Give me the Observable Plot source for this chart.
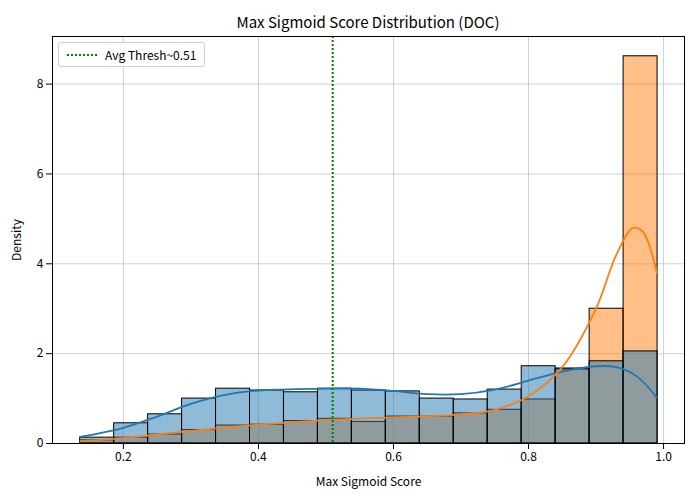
<!DOCTYPE html>
<html><head><meta charset="utf-8">
<script src="https://cdn.jsdelivr.net/npm/d3@7"></script>
<script src="https://cdn.jsdelivr.net/npm/@observablehq/plot@0.6"></script>
<style>
body{margin:0;font-family:"Noto Sans CJK KR","DejaVu Sans",sans-serif;background:#fff}
#wrap{position:relative;width:700px;height:500px}
#title{position:absolute;top:11px;left:52px;width:632px;text-align:center;font-size:15px}
#legend{position:absolute;top:42px;left:58px;border:1px solid #ccc;border-radius:3px;background:#fff;padding:3px 8px;font-size:12px;display:flex;align-items:center;gap:8px}
</style></head><body>
<div id="wrap"><div id="title">Max Sigmoid Score Distribution (DOC)</div>
<div id="legend"><svg width="30" height="6"><line x1="0" y1="3" x2="30" y2="3" stroke="green" stroke-width="2" stroke-dasharray="2,2"/></svg>Avg Thresh~0.51</div>
<div id="chart"></div></div>
<script>
const binStart = 0.136, binWidth = 0.0503
const blueHeights = [0.13,0.45,0.65,1.0,1.22,1.18,1.14,1.22,1.18,1.16,1.0,0.98,1.2,1.72,1.65,1.83,2.05]
const orangeHeights = [0.07,0.13,0.2,0.3,0.4,0.42,0.5,0.55,0.48,0.6,0.6,0.67,0.75,0.98,1.67,3.0,8.62]
const blueKdeX = [0.136,0.2,0.25,0.3,0.35,0.4,0.5,0.55,0.6,0.65,0.7,0.75,0.8,0.85,0.9,0.93,0.96,0.99]
const blueKdeY = [0.15,0.35,0.6,0.88,1.08,1.18,1.22,1.22,1.17,1.1,1.1,1.2,1.4,1.6,1.72,1.7,1.5,1.02]
const orangeKdeX = [0.136,0.2,0.3,0.4,0.5,0.6,0.7,0.75,0.8,0.85,0.9,0.93,0.955,0.97,0.99]
const orangeKdeY = [0.05,0.12,0.28,0.42,0.52,0.58,0.65,0.75,1.05,1.7,3.0,4.2,4.8,4.7,3.8]
const thresh = 0.51

const bins = (h, s) => h.map((v, i) => ({x1: binStart + i*binWidth, x2: binStart + (i+1)*binWidth, y: v, s}))
const bars = [...bins(orangeHeights, "orange"), ...bins(blueHeights, "blue")]
const kde = (xs, ys) => xs.map((x, i) => ({x, y: ys[i]}))

const chart = Plot.plot({
  width: 700, height: 500,
  marginLeft: 52, marginRight: 16, marginTop: 36, marginBottom: 57,
  style: {fontFamily: '"Noto Sans CJK KR","DejaVu Sans",sans-serif', fontSize: "12px", color: "#000"},
  x: {domain: [0.095, 1.031], ticks: [0.2,0.4,0.6,0.8,1.0], tickFormat: d3.format(".1f"), label: "Max Sigmoid Score", labelArrow: "none", labelAnchor: "center", labelOffset: 42},
  y: {domain: [0, 9.06], ticks: [0,2,4,6,8], label: "Density", labelArrow: "none", labelAnchor: "center", labelOffset: 40},
  marks: [
    Plot.gridX([0.2,0.4,0.6,0.8,1.0], {stroke: "#b0b0b0", strokeOpacity: 0.6}),
    Plot.gridY([0,2,4,6,8], {stroke: "#b0b0b0", strokeOpacity: 0.6}),
    Plot.rect(bars, {x1: "x1", x2: "x2", y1: 0, y2: "y", fill: d => d.s == "blue" ? "#1f77b4" : "#ff7f0e", fillOpacity: 0.5, stroke: "#000", strokeWidth: 1}),
    Plot.line(kde(blueKdeX, blueKdeY), {x: "x", y: "y", stroke: "#1f77b4", strokeWidth: 1.8, curve: "catmull-rom"}),
    Plot.line(kde(orangeKdeX, orangeKdeY), {x: "x", y: "y", stroke: "#ff7f0e", strokeWidth: 1.8, curve: "catmull-rom"}),
    Plot.ruleX([thresh], {stroke: "green", strokeWidth: 2, strokeDasharray: "2,2"}),
    Plot.frame({stroke: "#000"})
  ]
})
document.getElementById("chart").append(chart)
</script></body></html>
